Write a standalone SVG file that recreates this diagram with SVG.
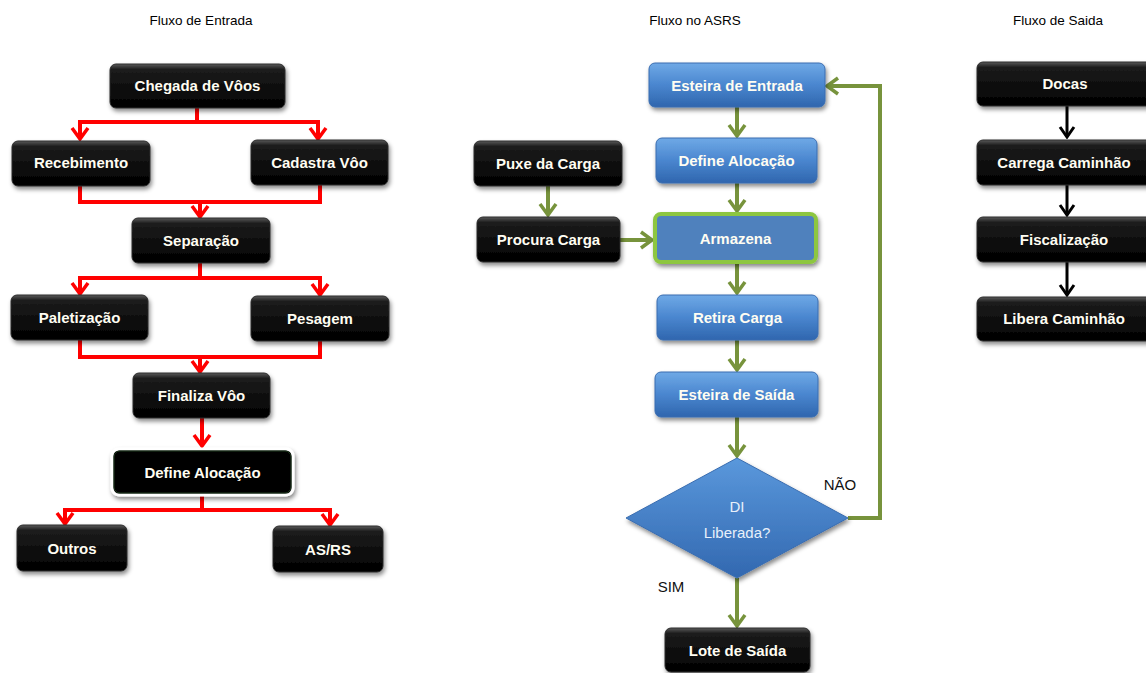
<svg xmlns="http://www.w3.org/2000/svg" width="1146" height="673" viewBox="0 0 1146 673">
<defs>
<linearGradient id="gBlack" x1="0" y1="0" x2="0" y2="1">
<stop offset="0" stop-color="#5a5a5a"/>
<stop offset="0.12" stop-color="#1c1c1c"/>
<stop offset="1" stop-color="#000"/>
</linearGradient>
<linearGradient id="gBlue" x1="0" y1="0" x2="0" y2="1">
<stop offset="0" stop-color="#6fa9e6"/>
<stop offset="0.5" stop-color="#4a86cf"/>
<stop offset="1" stop-color="#2f66ae"/>
</linearGradient>
<linearGradient id="gDia" x1="0" y1="0" x2="0" y2="1">
<stop offset="0" stop-color="#5a98dc"/>
<stop offset="1" stop-color="#3268b0"/>
</linearGradient>
<filter id="sh" x="-20%" y="-20%" width="140%" height="150%">
<feDropShadow dx="1.5" dy="3" stdDeviation="2" flood-color="#000" flood-opacity="0.45"/>
</filter>
<marker id="aR" viewBox="-14 -10 16 20" refX="0" refY="0" markerWidth="16" markerHeight="20" markerUnits="userSpaceOnUse" orient="auto">
<path d="M-11,-8 L0,0 L-11,8" fill="none" stroke="#ff0000" stroke-width="3.5"/>
</marker>
<marker id="aG" viewBox="-14 -10 16 20" refX="0" refY="0" markerWidth="16" markerHeight="20" markerUnits="userSpaceOnUse" orient="auto">
<path d="M-11,-8 L0,0 L-11,8" fill="none" stroke="#77933c" stroke-width="3.5"/>
</marker>
<marker id="aK" viewBox="-14 -10 16 20" refX="0" refY="0" markerWidth="16" markerHeight="20" markerUnits="userSpaceOnUse" orient="auto">
<path d="M-10,-7 L0,0 L-10,7" fill="none" stroke="#000" stroke-width="3"/>
</marker>
</defs>
<style>
.title{font-family:"Liberation Sans",Arial,sans-serif;font-size:13.5px;fill:#000;text-anchor:middle}
.bk{fill:url(#gBlack);stroke:#2a2a2a;stroke-width:1;filter:url(#sh)}
.bl{fill:url(#gBlue);stroke:#3a6db0;stroke-width:1;filter:url(#sh)}
.t{font-family:"Liberation Sans",Arial,sans-serif;font-size:15px;font-weight:bold;fill:#fffdf2;text-anchor:middle}
.red{fill:none;stroke:#ff0000;stroke-width:4}
.grn{fill:none;stroke:#77933c;stroke-width:4}
.blk{fill:none;stroke:#000;stroke-width:3}
.lbl{font-family:"Liberation Sans",Arial,sans-serif;font-size:15px;fill:#111;text-anchor:middle}
</style>
<rect width="1146" height="673" fill="#fff"/>
<text class="title" x="201" y="25">Fluxo de Entrada</text>
<text class="title" x="695" y="25">Fluxo no ASRS</text>
<text class="title" x="1058" y="25">Fluxo de Saida</text>

<g id="connectors">
<path class="red" d="M197,108 V122 M78,122 H320"/>
<path class="red" d="M80,122 V139" marker-end="url(#aR)"/>
<path class="red" d="M318,122 V139" marker-end="url(#aR)"/>
<path class="red" d="M80,186 V202 H320 V185"/>
<path class="red" d="M200,202 V217" marker-end="url(#aR)"/>
<path class="red" d="M200,263 V278 M78,278 H322"/>
<path class="red" d="M80,278 V294" marker-end="url(#aR)"/>
<path class="red" d="M320,278 V295" marker-end="url(#aR)"/>
<path class="red" d="M80,340 V357 H320 V341"/>
<path class="red" d="M200,357 V372" marker-end="url(#aR)"/>
<path class="red" d="M202,418 V446" marker-end="url(#aR)"/>
<path class="red" d="M202,495 V510 M63,510 H332"/>
<path class="red" d="M65,510 V524" marker-end="url(#aR)"/>
<path class="red" d="M330,510 V525" marker-end="url(#aR)"/>

<path class="grn" d="M737,107 V136" marker-end="url(#aG)"/>
<path class="grn" d="M737,183 V211" marker-end="url(#aG)"/>
<path class="grn" d="M548,186 V215" marker-end="url(#aG)"/>
<path class="grn" d="M620,240 H652" marker-end="url(#aG)"/>
<path class="grn" d="M737,264 V293" marker-end="url(#aG)"/>
<path class="grn" d="M737,340 V370" marker-end="url(#aG)"/>
<path class="grn" d="M737,417 V456" marker-end="url(#aG)"/>
<path class="grn" d="M737,578 V626" marker-end="url(#aG)"/>
<path class="grn" d="M848,518 H880 V86 H827" marker-end="url(#aG)"/>

<path class="blk" d="M1067,106 V137" marker-end="url(#aK)"/>
<path class="blk" d="M1067,185 V215" marker-end="url(#aK)"/>
<path class="blk" d="M1067,262 V295" marker-end="url(#aK)"/>
</g>

<g id="chegada"><rect class="bk" x="110" y="64" width="175" height="44" rx="6"/><text class="t" x="197.5" y="91">Chegada de Vôos</text></g>
<g id="recebimento"><rect class="bk" x="12" y="141" width="138" height="45" rx="6"/><text class="t" x="81" y="168">Recebimento</text></g>
<g id="cadastra"><rect class="bk" x="251" y="140" width="137" height="45" rx="6"/><text class="t" x="319.5" y="168">Cadastra Vôo</text></g>
<g id="separacao"><rect class="bk" x="132" y="218" width="138" height="45" rx="6"/><text class="t" x="201" y="246">Separação</text></g>
<g id="paletizacao"><rect class="bk" x="11" y="295" width="137" height="45" rx="6"/><text class="t" x="79.5" y="323">Paletização</text></g>
<g id="pesagem"><rect class="bk" x="251" y="296" width="138" height="45" rx="6"/><text class="t" x="320" y="324">Pesagem</text></g>
<g id="finaliza"><rect class="bk" x="133" y="373" width="137" height="45" rx="6"/><text class="t" x="201.5" y="401">Finaliza Vôo</text></g>
<g id="define1"><rect x="112" y="449" width="181" height="46" rx="7" fill="#000" stroke="#fff" stroke-width="3" filter="url(#sh)"/><rect x="114" y="451" width="177" height="42" rx="6" fill="none" stroke="#1e3a1e" stroke-width="1"/><text class="t" x="202.5" y="478">Define Alocação</text></g>
<g id="outros"><rect class="bk" x="17" y="525" width="110" height="46" rx="6"/><text class="t" x="72" y="554">Outros</text></g>
<g id="asrs"><rect class="bk" x="273" y="526" width="110" height="46" rx="6"/><text class="t" x="328" y="555">AS/RS</text></g>

<g id="esteiraEntrada"><rect class="bl" x="649" y="63" width="176" height="44" rx="6"/><text class="t" x="737" y="91">Esteira de Entrada</text></g>
<g id="define2"><rect class="bl" x="656" y="138" width="161" height="45" rx="6"/><text class="t" x="736.5" y="166">Define Alocação</text></g>
<g id="armazena"><rect x="655" y="214" width="161" height="48" rx="6" fill="#4f81bd" stroke="#8dc63f" stroke-width="4" filter="url(#sh)"/><text class="t" x="735.5" y="244">Armazena</text></g>
<g id="puxe"><rect class="bk" x="474" y="141" width="148" height="45" rx="6"/><text class="t" x="548" y="169">Puxe da Carga</text></g>
<g id="procura"><rect class="bk" x="477" y="217" width="143" height="45" rx="6"/><text class="t" x="548.5" y="245">Procura Carga</text></g>
<g id="retira"><rect class="bl" x="657" y="295" width="161" height="45" rx="6"/><text class="t" x="737.5" y="323">Retira Carga</text></g>
<g id="esteiraSaida"><rect class="bl" x="655" y="372" width="163" height="45" rx="6"/><text class="t" x="736.5" y="400">Esteira de Saída</text></g>
<g id="decisao"><polygon points="737,458 848,518 737,578 626,518" fill="url(#gDia)" stroke="#3a6db0" stroke-width="1" filter="url(#sh)"/><text x="737" y="512" font-family="Liberation Sans, Arial, sans-serif" font-size="15" fill="#e8f0fa" text-anchor="middle">DI</text><text x="737" y="538" font-family="Liberation Sans, Arial, sans-serif" font-size="15" fill="#e8f0fa" text-anchor="middle">Liberada?</text></g>
<text class="lbl" x="840" y="490">NÃO</text>
<text class="lbl" x="671" y="592">SIM</text>
<g id="lote"><rect class="bk" x="665" y="628" width="145" height="44" rx="6"/><text class="t" x="737.5" y="656">Lote de Saída</text></g>

<g id="docas"><rect class="bk" x="977" y="62" width="176" height="44" rx="6"/><text class="t" x="1065" y="89">Docas</text></g>
<g id="carrega"><rect class="bk" x="977" y="140" width="176" height="45" rx="6"/><text class="t" x="1064" y="168">Carrega Caminhão</text></g>
<g id="fiscalizacao"><rect class="bk" x="977" y="217" width="176" height="45" rx="6"/><text class="t" x="1064" y="245">Fiscalização</text></g>
<g id="libera"><rect class="bk" x="977" y="297" width="176" height="44" rx="6"/><text class="t" x="1064" y="324">Libera Caminhão</text></g>
</svg>
